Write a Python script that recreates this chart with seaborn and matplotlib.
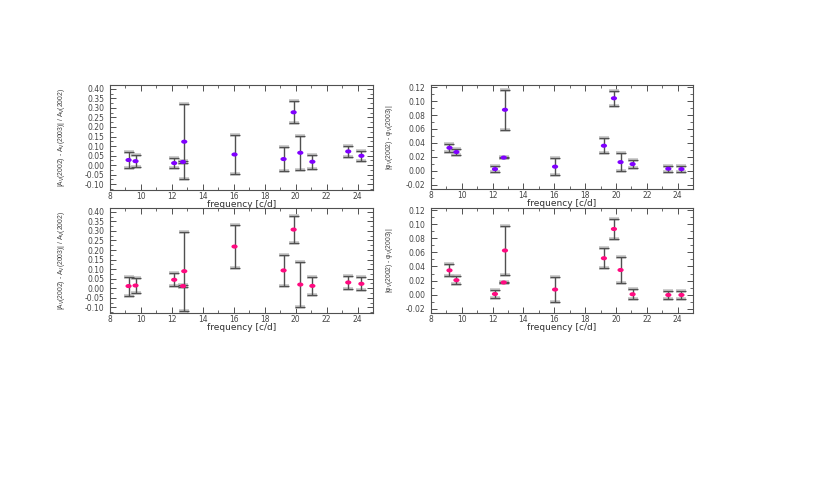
import numpy as np
import pandas as pd
import matplotlib
matplotlib.use("Agg")
import matplotlib.pyplot as plt
import seaborn as sns
from matplotlib.ticker import MultipleLocator, FormatStrFormatter

# ---------------- data ----------------
freq = [9.20, 9.65, 12.15, 12.72, 12.80, 16.05, 19.22, 19.87, 20.30, 21.08, 23.40, 24.25]

amp_v = [0.027, 0.021, 0.011, 0.017, 0.123, 0.056, 0.032, 0.277, 0.065, 0.018, 0.072, 0.049]
amp_v_err = [0.042, 0.030, 0.026, 0.005, 0.196, 0.100, 0.064, 0.057, 0.088, 0.036, 0.030, 0.026]

phase_v = [0.033, 0.027, 0.0025, 0.019, 0.0875, 0.006, 0.036, 0.104, 0.0125, 0.0097, 0.003, 0.0025]
phase_v_err = [0.006, 0.005, 0.0045, 0.001, 0.029, 0.012, 0.0105, 0.0105, 0.0125, 0.0055, 0.0045, 0.0045]

amp_b = [0.011, 0.014, 0.044, 0.011, 0.089, 0.218, 0.093, 0.307, 0.019, 0.012, 0.030, 0.023]
amp_b_err = [0.050, 0.039, 0.033, 0.004, 0.206, 0.114, 0.082, 0.072, 0.120, 0.046, 0.033, 0.033]

phase_b = [0.0345, 0.0206, 0.001, 0.0173, 0.0627, 0.0073, 0.0517, 0.0932, 0.035, 0.0006, -0.0004, -0.0004]
phase_b_err = [0.0085, 0.006, 0.0053, 0.001, 0.0346, 0.0177, 0.014, 0.0136, 0.019, 0.007, 0.0053, 0.0053]

xlabel = "frequency [c/d]"
amp_label = r"|A$_V$(2002) - A$_V$(2003)| / A$_V$(2002)"
phase_label = r"|$\varphi_V$(2002) - $\varphi_V$(2003)|"

violet = "#8000ff"
pink = "#ff0a80"

# ---------------- style ----------------
sns.set_style("ticks")
plt.rcParams["font.family"] = ["DejaVu Sans"]
plt.rcParams["mathtext.fontset"] = "custom"
plt.rcParams["mathtext.rm"] = "Liberation Sans"
plt.rcParams["mathtext.it"] = "Liberation Sans"

fig = plt.figure(figsize=(8.3, 4.91), dpi=100)

W, H = 830, 491
def axpos(l, t, r, b):
    return [l / W, 1 - b / H, (r - l) / W, (b - t) / H]

panels = [
    (axpos(110, 85, 373, 190), amp_v, amp_v_err, violet, (-0.13, 0.42), 0.05, 0.025, amp_label, 61, 4.9),
    (axpos(431, 85, 693, 189), phase_v, phase_v_err, violet, (-0.026, 0.123), 0.02, 0.01, phase_label, 389, 4.9),
    (axpos(110, 208, 373, 313), amp_b, amp_b_err, pink, (-0.13, 0.42), 0.05, 0.025, amp_label, 61, 4.9),
    (axpos(431, 208, 693, 313), phase_b, phase_b_err, pink, (-0.026, 0.123), 0.02, 0.01, phase_label, 389, 4.9),
]

# ellipse-like marker (wider than tall)
t = np.linspace(0, 2 * np.pi, 40)
ell = np.column_stack([1.5 * np.cos(t), np.sin(t)])

for pos, yv, ye, col, ylim, maj, mnr, ylab, labx, lfs in panels:
    ax = fig.add_axes(pos)
    df = pd.DataFrame({"freq": freq, "val": yv, "err": ye})
    ax.errorbar(df["freq"], df["val"], yerr=df["err"], fmt="none",
                ecolor="#c4c4c4", elinewidth=0, capsize=3.6, capthick=2.6, zorder=1)
    ax.errorbar(df["freq"], df["val"], yerr=df["err"], fmt="none",
                ecolor="#505050", elinewidth=1.0, capsize=3.3, capthick=0.9, zorder=2)
    sns.scatterplot(data=df, x="freq", y="val", ax=ax, color=col, marker=ell,
                    s=20, edgecolor="none", linewidth=0, zorder=3, legend=False)
    ax.set_xlim(8, 25)
    ax.set_ylim(*ylim)
    ax.xaxis.set_major_locator(MultipleLocator(2))
    ax.xaxis.set_minor_locator(MultipleLocator(1))
    ax.yaxis.set_major_locator(MultipleLocator(maj))
    ax.yaxis.set_minor_locator(MultipleLocator(mnr))
    ax.yaxis.set_major_formatter(FormatStrFormatter("%.2f"))
    ax.tick_params(which="both", direction="in", top=True, right=True,
                   colors="#505050", labelcolor="#454545", labelsize=5.5, pad=1.5)
    ax.tick_params(axis="y", which="both", pad=4)
    ax.tick_params(which="major", length=4, width=0.7)
    ax.tick_params(which="minor", length=2, width=0.6)
    for sp in ax.spines.values():
        sp.set_color("#505050")
        sp.set_linewidth(0.8)
    ax.set_xlabel(xlabel, fontsize=6.5, color="#303030", labelpad=-0.5)
    ax.set_ylabel("")
    ax.grid(False)
    ycen = pos[1] + pos[3] / 2
    fig.text(labx / W, ycen, ylab, rotation=90, ha="center", va="center",
             fontsize=lfs, color="#404040", family=["Liberation Sans", "DejaVu Sans"])

fig.savefig("out.png", dpi=100, facecolor="white")
